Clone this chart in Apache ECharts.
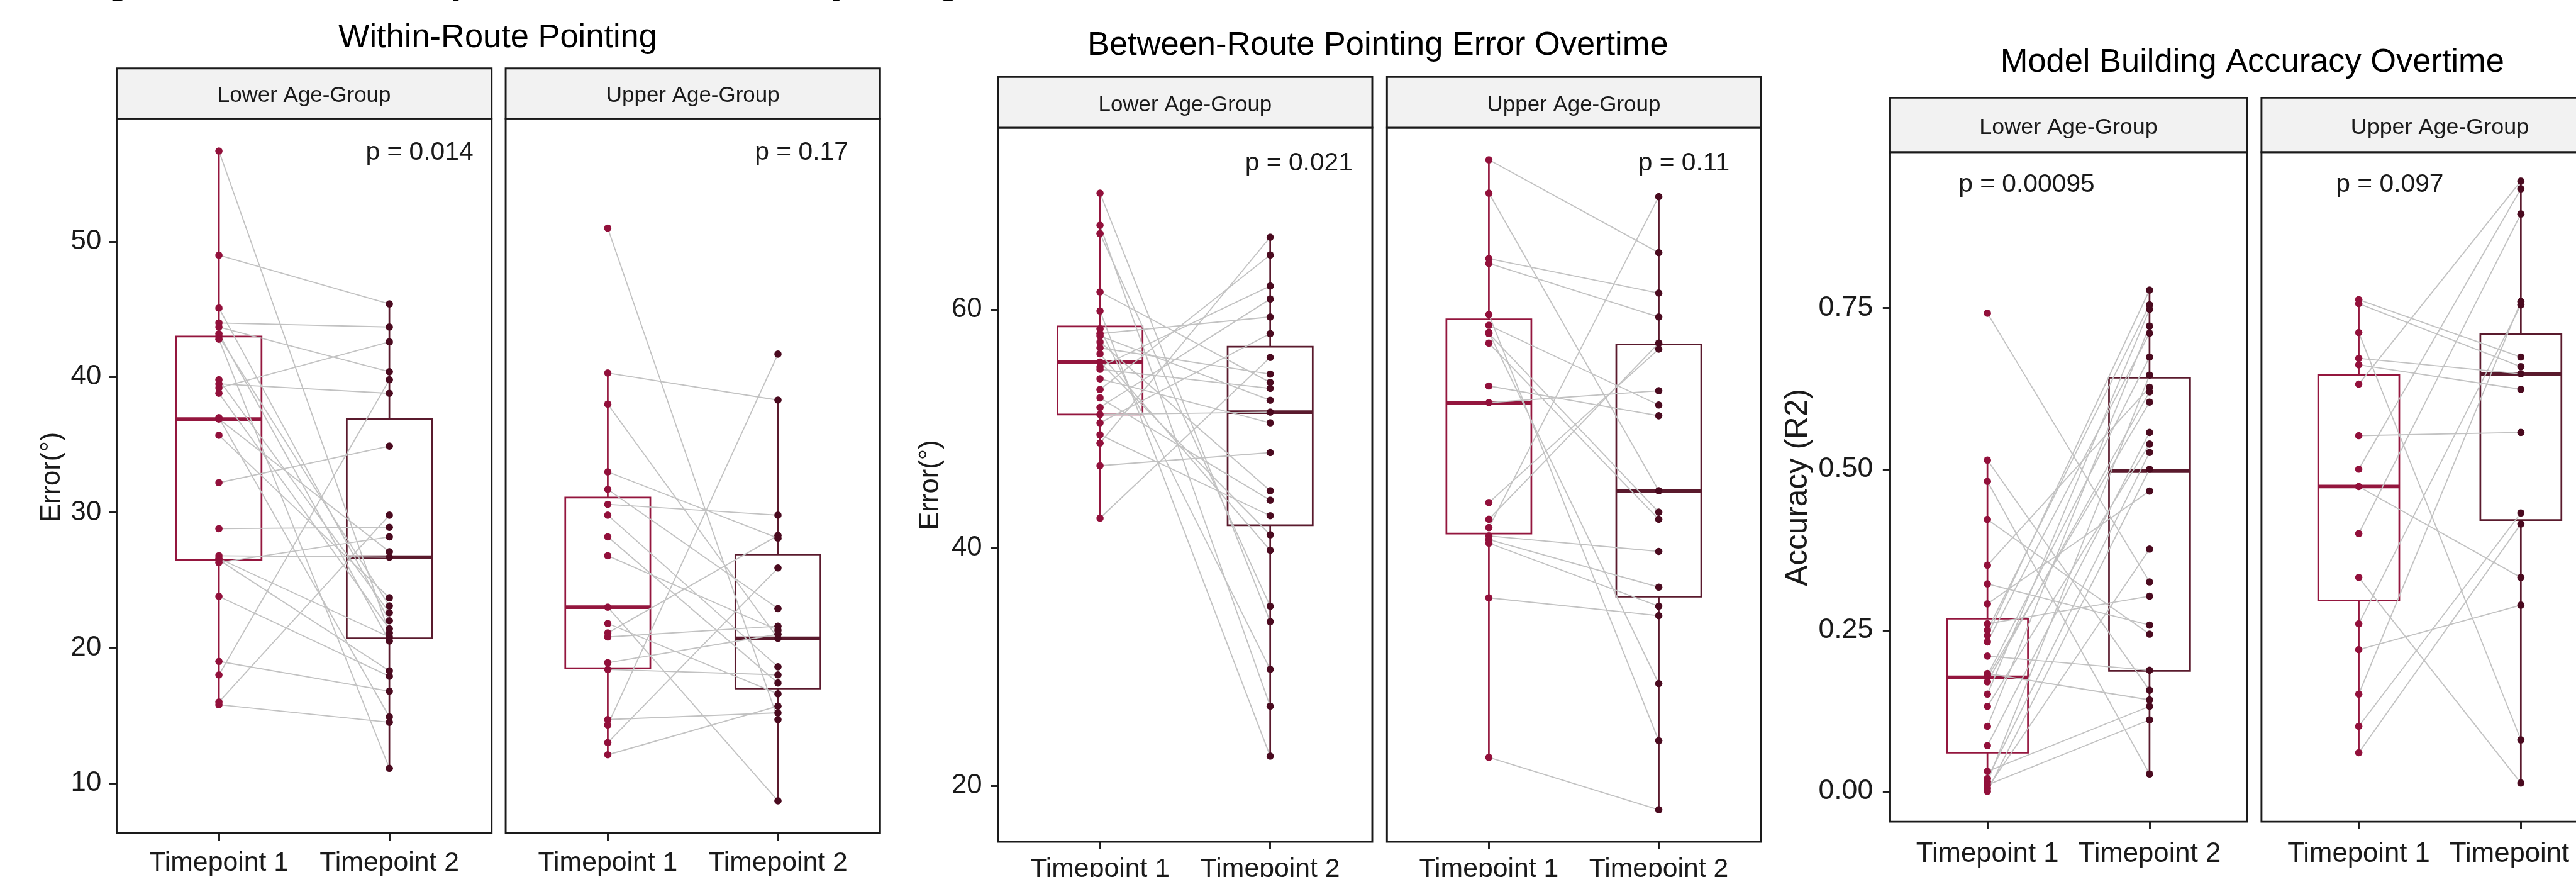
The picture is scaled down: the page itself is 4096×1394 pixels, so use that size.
<!DOCTYPE html>
<html>
<head>
<meta charset="utf-8">
<script src="https://cdn.jsdelivr.net/npm/echarts@6.0.0/dist/echarts.min.js"></script>
<style>html,body{margin:0;padding:0;background:#fff;}#c{width:4096px;height:1394px;}</style>
</head>
<body>
<div id="c"></div>
<script>
// ---------------- DATA ----------------
const categories = ['Timepoint 1', 'Timepoint 2'];
const groups = ['Lower Age-Group', 'Upper Age-Group'];
const chartTitles = ['Within-Route Pointing', 'Between-Route Pointing Error Overtime', 'Model Building Accuracy Overtime'];
const yAxisNames = ['Error(°)', 'Error(°)', 'Accuracy (R2)'];
const pValues = ['p = 0.014', 'p = 0.17', 'p = 0.021', 'p = 0.11', 'p = 0.00095', 'p = 0.097'];

const wrTicks = [10, 20, 30, 40, 50];
const brTicks = [20, 40, 60];
const mbTicks = [0, 0.25, 0.5, 0.75];

// Within-Route, paired values (Timepoint 1 -> Timepoint 2)
const wrLowT1 = [56.7, 49.0, 45.1, 44.0, 43.7, 43.2, 43.0, 42.8, 39.8, 39.5, 39.2, 38.8, 36.9, 37.0, 35.7, 32.2, 28.8, 26.8, 26.6, 26.5, 26.3, 23.8, 19.0, 18.0, 16.0, 15.8];
const wrLowT2 = [21.1, 45.4, 22.0, 43.7, 40.4, 20.5, 23.1, 11.1, 22.6, 38.8, 42.6, 21.4, 27.1, 14.9, 23.7, 34.9, 28.9, 26.7, 20.8, 18.3, 28.2, 17.9, 16.8, 39.8, 29.8, 14.5];
const wrUpT1 = [51.0, 40.3, 38.0, 33.0, 31.7, 30.6, 29.8, 28.2, 26.8, 23.0, 21.8, 21.1, 20.8, 18.9, 18.4, 14.7, 14.3, 13.0, 12.1];
const wrUpT2 = [14.7, 38.3, 20.7, 28.1, 22.9, 29.8, 18.6, 17.4, 21.3, 8.7, 16.6, 28.3, 21.6, 21.0, 18.0, 15.2, 41.7, 25.9, 15.7];
// box stats [min, Q1, median, Q3, max] for Timepoint 1, Timepoint 2
const wrLowBox = [[15.8, 26.5, 36.9, 43.0, 56.7], [11.1, 20.7, 26.7, 36.9, 45.4]];
const wrUpBox = [[12.1, 18.5, 23.0, 31.1, 40.3], [8.7, 17.0, 20.7, 26.9, 38.3]];

// Between-Route
const brLowT1 = [69.8, 67.1, 66.4, 61.5, 59.9, 58.4, 58.0, 57.8, 57.3, 56.8, 56.3, 55.6, 55.2, 55.0, 54.2, 53.3, 52.6, 51.8, 51.2, 50.5, 49.5, 48.8, 46.9, 42.5];
const brLowT2 = [33.8, 26.7, 35.1, 53.9, 22.5, 29.8, 59.4, 52.4, 44.8, 54.6, 39.8, 41.1, 62.0, 53.4, 50.5, 64.6, 44.0, 60.9, 51.4, 58.0, 42.7, 66.1, 48.0, 56.0];
const brUpT1 = [72.6, 69.8, 64.3, 63.9, 59.6, 58.7, 58.1, 58.0, 57.2, 53.6, 52.2, 43.8, 42.4, 41.7, 41.0, 40.7, 40.4, 35.8, 22.4];
const brUpT2 = [64.8, 44.8, 61.4, 59.4, 23.8, 52.0, 28.6, 43.0, 42.4, 51.1, 53.2, 56.7, 57.2, 69.5, 39.7, 36.7, 35.1, 34.3, 18.0];
const brLowBox = [[42.5, 51.2, 55.6, 58.6, 69.8], [22.5, 41.9, 51.4, 56.9, 66.1]];
const brUpBox = [[22.4, 41.2, 52.2, 59.2, 72.6], [18.0, 35.9, 44.8, 57.1, 69.5]];

// Model Building Accuracy
const mbLowT1 = [0.742, 0.514, 0.481, 0.422, 0.351, 0.322, 0.291, 0.260, 0.250, 0.242, 0.232, 0.210, 0.183, 0.180, 0.177, 0.170, 0.151, 0.132, 0.101, 0.071, 0.031, 0.020, 0.015, 0.010, 0.005, 0.000];
const mbLowT2 = [0.325, 0.157, 0.027, 0.244, 0.627, 0.258, 0.466, 0.303, 0.755, 0.778, 0.711, 0.188, 0.142, 0.674, 0.604, 0.620, 0.748, 0.539, 0.722, 0.557, 0.132, 0.526, 0.646, 0.111, 0.376, 0.500];
const mbUpT1 = [0.763, 0.757, 0.712, 0.672, 0.662, 0.632, 0.552, 0.500, 0.473, 0.400, 0.332, 0.260, 0.220, 0.151, 0.101, 0.060];
const mbUpT2 = [0.674, 0.659, 0.080, 0.648, 0.624, 0.947, 0.557, 0.935, 0.332, 0.896, 0.013, 0.755, 0.289, 0.760, 0.432, 0.415];
const mbLowBox = [[0.000, 0.060, 0.177, 0.268, 0.514], [0.027, 0.187, 0.497, 0.642, 0.778]];
const mbUpBox = [[0.060, 0.296, 0.473, 0.646, 0.763], [0.013, 0.421, 0.648, 0.710, 0.947]];

// ---------------- LAYOUT / STYLE ----------------
const S = 4096 / 4218;
const FONT = '"Liberation Sans", Arial, Helvetica, sans-serif';
const C1 = '#92103b', C2 = '#4a0a1f';
const BOX1 = '#94163e', BOX2 = '#5a1a2d';
const GREY = '#c2c2c2';
const INK = '#1a1a1a';

const panels = [
  { chart: 0, g: 0, l: 191, r: 805, t: 194, b: 1364, st: 112, t1: wrLowT1, t2: wrLowT2, box: wrLowBox },
  { chart: 0, g: 1, l: 828, r: 1441, t: 194, b: 1364, st: 112, t1: wrUpT1, t2: wrUpT2, box: wrUpBox },
  { chart: 1, g: 0, l: 1634, r: 2247, t: 209, b: 1378, st: 126, t1: brLowT1, t2: brLowT2, box: brLowBox },
  { chart: 1, g: 1, l: 2271, r: 2883, t: 209, b: 1378, st: 126, t1: brUpT1, t2: brUpT2, box: brUpBox },
  { chart: 2, g: 0, l: 3095, r: 3679, t: 249, b: 1345, st: 160, t1: mbLowT1, t2: mbLowT2, box: mbLowBox },
  { chart: 2, g: 1, l: 3703, r: 4287, t: 249, b: 1345, st: 160, t1: mbUpT1, t2: mbUpT2, box: mbUpBox }
];
const charts = [
  { yMin: 6.3, yMax: 59.1, ticks: wrTicks, fmt: v => String(v), tickFont: 45, xFont: 44, xMargin: 27, yMargin: 25,
    title: { x: 815, y: 62 }, stripY: 157, stripFont: 36, yName: { x: 85, y: 781, f: 45 } },
  { yMin: 15.3, yMax: 75.3, ticks: brTicks, fmt: v => String(v), tickFont: 45, xFont: 44, xMargin: 23, yMargin: 26,
    title: { x: 2256, y: 75 }, stripY: 172, stripFont: 36, yName: { x: 1524, y: 794, f: 45 } },
  { yMin: -0.047, yMax: 0.992, ticks: mbTicks, fmt: v => v.toFixed(2), tickFont: 46, xFont: 45, xMargin: 31, yMargin: 28,
    title: { x: 3688, y: 102 }, stripY: 209, stripFont: 37, yName: { x: 2944, y: 798, f: 51 } }
];
const pPos = [
  { x: 775, y: 250, a: 'right' }, { x: 1389, y: 250, a: 'right' },
  { x: 2215, y: 268, a: 'right' }, { x: 2832, y: 268, a: 'right' },
  { x: 3207, y: 302, a: 'left' }, { x: 3825, y: 302, a: 'left' }
];

const grid = [], xAxis = [], yAxis = [], series = [], graphic = [];

function boxRenderer(params, api) {
  const x = api.value(0);
  const col = x === 1 ? BOX1 : BOX2;
  const pMin = api.coord([x, api.value(1)]);
  const pQ1 = api.coord([x, api.value(2)]);
  const pMd = api.coord([x, api.value(3)]);
  const pQ3 = api.coord([x, api.value(4)]);
  const pMax = api.coord([x, api.value(5)]);
  const hw = api.size([0.5, 0])[0] / 2;
  const lw = 2.8 * S;
  return {
    type: 'group',
    children: [
      { type: 'line', shape: { x1: pMin[0], y1: pMin[1], x2: pQ1[0], y2: pQ1[1] }, style: { stroke: col, lineWidth: lw } },
      { type: 'line', shape: { x1: pQ3[0], y1: pQ3[1], x2: pMax[0], y2: pMax[1] }, style: { stroke: col, lineWidth: lw } },
      { type: 'rect', shape: { x: pQ1[0] - hw, y: pQ3[1], width: 2 * hw, height: pQ1[1] - pQ3[1] }, style: { fill: 'none', stroke: col, lineWidth: lw } },
      { type: 'line', shape: { x1: pMd[0] - hw, y1: pMd[1], x2: pMd[0] + hw, y2: pMd[1] }, style: { stroke: col, lineWidth: 6 * S } }
    ]
  };
}

panels.forEach((p, i) => {
  const ch = charts[p.chart];
  grid.push({
    left: p.l * S, top: p.t * S, width: (p.r - p.l) * S, height: (p.b - p.t) * S,
    show: true, borderColor: INK, borderWidth: 3 * S, backgroundColor: 'transparent',
    containLabel: false, outerBoundsMode: 'none'
  });
  xAxis.push({
    type: 'value', gridIndex: i, min: 0.4, max: 2.6, position: 'bottom',
    axisLine: { show: false, onZero: false },
    splitLine: { show: false },
    axisTick: { show: true, customValues: [1, 2], length: 12 * S, lineStyle: { color: INK, width: 3 * S } },
    axisLabel: { show: true, customValues: [1, 2], formatter: v => categories[Math.round(v) - 1], margin: ch.xMargin * S,
      fontSize: ch.xFont * S, fontFamily: FONT, color: INK }
  });
  yAxis.push({
    type: 'value', gridIndex: i, min: ch.yMin, max: ch.yMax, position: 'left',
    axisLine: { show: false, onZero: false },
    splitLine: { show: false },
    axisTick: { show: p.g === 0, customValues: ch.ticks, length: 12 * S, lineStyle: { color: INK, width: 3 * S } },
    axisLabel: { show: p.g === 0, customValues: ch.ticks, formatter: v => ch.fmt(v), margin: ch.yMargin * S,
      fontSize: ch.tickFont * S, fontFamily: FONT, color: INK }
  });
  // boxes
  series.push({
    type: 'custom', xAxisIndex: i, yAxisIndex: i, z: 2, silent: true, animation: false,
    renderItem: boxRenderer,
    encode: { x: 0, y: [1, 2, 3, 4, 5] },
    data: p.box.map((b, k) => [k + 1].concat(b))
  });
  // paired lines
  series.push({
    type: 'lines', coordinateSystem: 'cartesian2d', xAxisIndex: i, yAxisIndex: i, z: 3, silent: true, animation: false,
    lineStyle: { color: GREY, width: 1.9 * S, opacity: 1 },
    data: p.t1.map((a, k) => ({ coords: [[1, a], [2, p.t2[k]]] }))
  });
  // points
  series.push({
    type: 'scatter', xAxisIndex: i, yAxisIndex: i, z: 4, silent: true, animation: false,
    symbol: 'circle', symbolSize: 12 * S, itemStyle: { color: C1, opacity: 1 },
    data: p.t1.map(v => [1, v])
  });
  series.push({
    type: 'scatter', xAxisIndex: i, yAxisIndex: i, z: 4, silent: true, animation: false,
    symbol: 'circle', symbolSize: 12 * S, itemStyle: { color: C2, opacity: 1 },
    data: p.t2.map(v => [2, v])
  });
  // strip
  graphic.push({
    type: 'rect', z: 10, silent: true,
    shape: { x: p.l * S, y: p.st * S, width: (p.r - p.l) * S, height: (p.t - p.st) * S },
    style: { fill: '#f2f2f2', stroke: INK, lineWidth: 3 * S }
  });
  graphic.push({
    type: 'text', z: 11, silent: true, x: (p.l + p.r) / 2 * S, y: ch.stripY * S,
    style: { text: groups[p.g], fontSize: ch.stripFont * S, fontFamily: FONT, fill: INK, align: 'center', verticalAlign: 'middle' }
  });
  // p value
  graphic.push({
    type: 'text', z: 11, silent: true, x: pPos[i].x * S, y: pPos[i].y * S,
    style: { text: pValues[i], fontSize: 42 * S, fontFamily: FONT, fill: INK, align: pPos[i].a, verticalAlign: 'middle' }
  });
});

charts.forEach((ch, c) => {
  graphic.push({
    type: 'text', z: 11, silent: true, x: ch.title.x * S, y: ch.title.y * S,
    style: { text: chartTitles[c], fontSize: 54 * S, fontFamily: FONT, fill: '#000', align: 'center', verticalAlign: 'middle' }
  });
  graphic.push({
    type: 'text', z: 11, silent: true, x: ch.yName.x * S, y: ch.yName.y * S, rotation: Math.PI / 2,
    style: { text: yAxisNames[c], fontSize: ch.yName.f * S, fontFamily: FONT, fill: INK, align: 'center', verticalAlign: 'middle' }
  });
});

// cut-off heading above the figure (only descenders visible)
[['g', 193], ['p', 757], ['y', 1378], ['g', 1553]].forEach(d => {
  graphic.push({
    type: 'text', z: 11, silent: true, x: d[1] * S, y: -28 * S,
    style: { text: d[0], fontSize: 62 * S, fontWeight: 'bold', fontFamily: FONT, fill: '#000', align: 'center', verticalAlign: 'middle' }
  });
});

const chart = echarts.init(document.getElementById('c'), null, { renderer: 'canvas', width: 4096, height: 1394 });
chart.setOption({
  backgroundColor: '#ffffff',
  animation: false,
  grid, xAxis, yAxis, series, graphic
});
</script>
</body>
</html>
